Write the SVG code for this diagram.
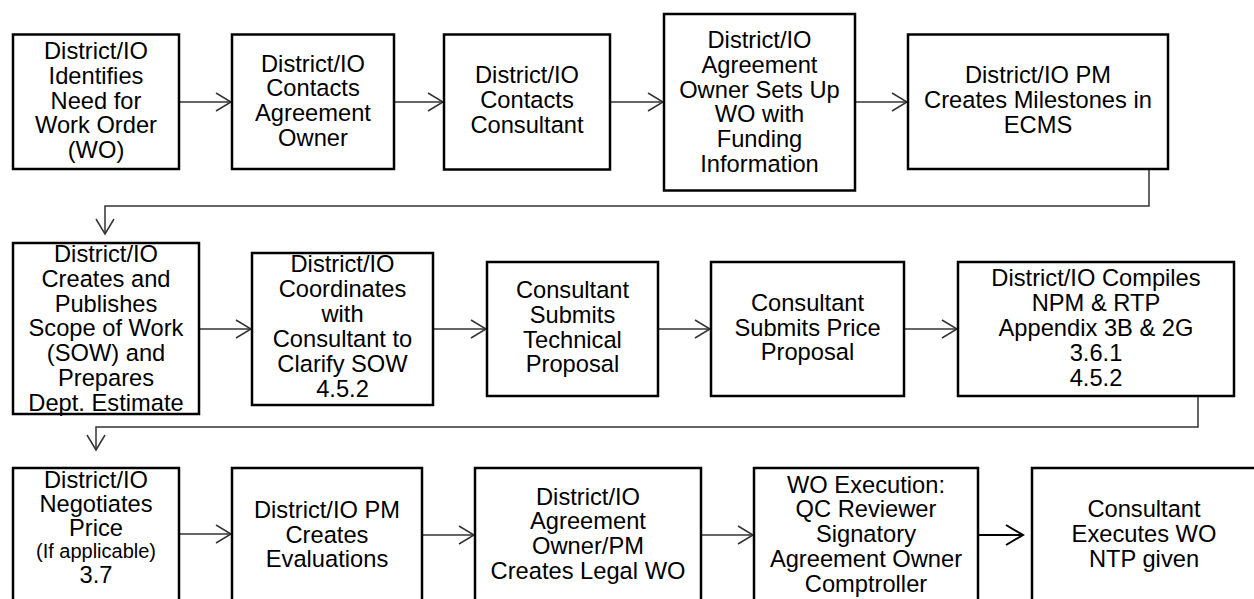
<svg xmlns="http://www.w3.org/2000/svg" width="1254" height="599" viewBox="0 0 1254 599">
<defs>
<style>
.box{fill:#fff;stroke:#000;stroke-width:2.5}
.t{font-family:"Liberation Sans",Arial,sans-serif;font-size:23.7px;fill:#000;text-anchor:middle}
.s{font-size:20px}
.c{fill:none;stroke:#333;stroke-width:1.5}
.cb{fill:none;stroke:#000;stroke-width:1.8}
</style>
<marker id="arr" markerUnits="userSpaceOnUse" markerWidth="18" markerHeight="22" viewBox="0 0 18 22" refX="16" refY="10" orient="auto">
<path d="M1,1 L16,10 L1,19" fill="none" stroke="#333" stroke-width="1.5"/>
</marker>
<marker id="arrB" markerUnits="userSpaceOnUse" markerWidth="20" markerHeight="24" viewBox="0 0 20 24" refX="18" refY="11" orient="auto">
<path d="M1,1 L18,11 L1,21" fill="none" stroke="#000" stroke-width="2"/>
</marker>
</defs>
<rect width="1254" height="599" fill="#fff"/>
<g id="connectors">
<path class="c" d="M179,102 H231" marker-end="url(#arr)"/>
<path class="c" d="M394,102 H443" marker-end="url(#arr)"/>
<path class="c" d="M610,102 H663" marker-end="url(#arr)"/>
<path class="c" d="M855,102 H907" marker-end="url(#arr)"/>
<path class="c" d="M1149,169 V206 H105 V234" marker-end="url(#arr)"/>
<path class="c" d="M199,329 H251" marker-end="url(#arr)"/>
<path class="c" d="M433,329 H486" marker-end="url(#arr)"/>
<path class="c" d="M658,329 H710" marker-end="url(#arr)"/>
<path class="c" d="M904,329 H957" marker-end="url(#arr)"/>
<path class="c" d="M1198,396 V427 H96 V450" marker-end="url(#arr)"/>
<path class="c" d="M179,534 H231" marker-end="url(#arr)"/>
<path class="c" d="M422,535 H474" marker-end="url(#arr)"/>
<path class="c" d="M701,535 H753" marker-end="url(#arr)"/>
<path class="cb" d="M978,535 H1023" marker-end="url(#arrB)"/>
</g>
<g id="n1"><rect class="box" x="13" y="34.5" width="166" height="134.5"/>
<text class="t"><tspan x="96" y="59.3">District/IO</tspan><tspan x="96" y="84">Identifies</tspan><tspan x="96" y="108.7">Need for</tspan><tspan x="96" y="133.4">Work Order</tspan><tspan x="96" y="158.1">(WO)</tspan></text></g>
<g id="n2"><rect class="box" x="232" y="34.5" width="162" height="134.5"/>
<text class="t"><tspan x="313" y="71.7">District/IO</tspan><tspan x="313" y="96.4">Contacts</tspan><tspan x="313" y="121.1">Agreement</tspan><tspan x="313" y="145.8">Owner</tspan></text></g>
<g id="n3"><rect class="box" x="444" y="34.5" width="166" height="135"/>
<text class="t"><tspan x="527" y="83.3">District/IO</tspan><tspan x="527" y="108">Contacts</tspan><tspan x="527" y="132.7">Consultant</tspan></text></g>
<g id="n4"><rect class="box" x="664" y="14" width="191" height="176.5"/>
<text class="t"><tspan x="759.5" y="48.3">District/IO</tspan><tspan x="759.5" y="73">Agreement</tspan><tspan x="759.5" y="97.7">Owner Sets Up</tspan><tspan x="759.5" y="122.4">WO with</tspan><tspan x="759.5" y="147.1">Funding</tspan><tspan x="759.5" y="171.8">Information</tspan></text></g>
<g id="n5"><rect class="box" x="908" y="34.5" width="260" height="134.5"/>
<text class="t"><tspan x="1038" y="83.3">District/IO PM</tspan><tspan x="1038" y="108">Creates Milestones in</tspan><tspan x="1038" y="132.7">ECMS</tspan></text></g>
<g id="n6"><rect class="box" x="13" y="243" width="186" height="171"/>
<text class="t"><tspan x="106" y="262">District/IO</tspan><tspan x="106" y="286.8">Creates and</tspan><tspan x="106" y="311.6">Publishes</tspan><tspan x="106" y="336.4">Scope of Work</tspan><tspan x="106" y="361.2">(SOW) and</tspan><tspan x="106" y="386">Prepares</tspan><tspan x="106" y="410.8">Dept. Estimate</tspan></text></g>
<g id="n7"><rect class="box" x="252" y="253" width="181" height="152"/>
<text class="t"><tspan x="342.5" y="272.3">District/IO</tspan><tspan x="342.5" y="297.3">Coordinates</tspan><tspan x="342.5" y="322.3">with</tspan><tspan x="342.5" y="347.3">Consultant to</tspan><tspan x="342.5" y="372.3">Clarify SOW</tspan><tspan x="342.5" y="397.3">4.5.2</tspan></text></g>
<g id="n8"><rect class="box" x="487" y="262" width="171" height="134"/>
<text class="t"><tspan x="572.5" y="298.3">Consultant</tspan><tspan x="572.5" y="323">Submits</tspan><tspan x="572.5" y="347.7">Technical</tspan><tspan x="572.5" y="372.4">Proposal</tspan></text></g>
<g id="n9"><rect class="box" x="711" y="262" width="193" height="134"/>
<text class="t"><tspan x="807.5" y="311">Consultant</tspan><tspan x="807.5" y="335.5">Submits Price</tspan><tspan x="807.5" y="360">Proposal</tspan></text></g>
<g id="n10"><rect class="box" x="958" y="262" width="276" height="134"/>
<text class="t"><tspan x="1096" y="286">District/IO Compiles</tspan><tspan x="1096" y="310.9">NPM &amp; RTP</tspan><tspan x="1096" y="335.8">Appendix 3B &amp; 2G</tspan><tspan x="1096" y="360.7">3.6.1</tspan><tspan x="1096" y="385.6">4.5.2</tspan></text></g>
<g id="n11"><rect class="box" x="13" y="468" width="166" height="160"/>
<text class="t"><tspan x="96" y="487.5">District/IO</tspan><tspan x="96" y="511.5">Negotiates</tspan><tspan x="96" y="535.5">Price</tspan><tspan x="96" y="557.5" class="s">(If applicable)</tspan><tspan x="96" y="583">3.7</tspan></text></g>
<g id="n12"><rect class="box" x="232" y="468" width="190" height="160"/>
<text class="t"><tspan x="327" y="518">District/IO PM</tspan><tspan x="327" y="542.7">Creates</tspan><tspan x="327" y="567.4">Evaluations</tspan></text></g>
<g id="n13"><rect class="box" x="475" y="468" width="226" height="160"/>
<text class="t"><tspan x="588" y="504.5">District/IO</tspan><tspan x="588" y="529.2">Agreement</tspan><tspan x="588" y="553.9">Owner/PM</tspan><tspan x="588" y="578.6">Creates Legal WO</tspan></text></g>
<g id="n14"><rect class="box" x="754" y="468" width="224" height="160"/>
<text class="t"><tspan x="866" y="492.7">WO Execution:</tspan><tspan x="866" y="517.4">QC Reviewer</tspan><tspan x="866" y="542.1">Signatory</tspan><tspan x="866" y="566.8">Agreement Owner</tspan><tspan x="866" y="591.5">Comptroller</tspan></text></g>
<g id="n15"><rect class="box" x="1032" y="468" width="226" height="160"/>
<text class="t"><tspan x="1144" y="517.3">Consultant</tspan><tspan x="1144" y="542">Executes WO</tspan><tspan x="1144" y="566.7">NTP given</tspan></text></g>
</svg>
